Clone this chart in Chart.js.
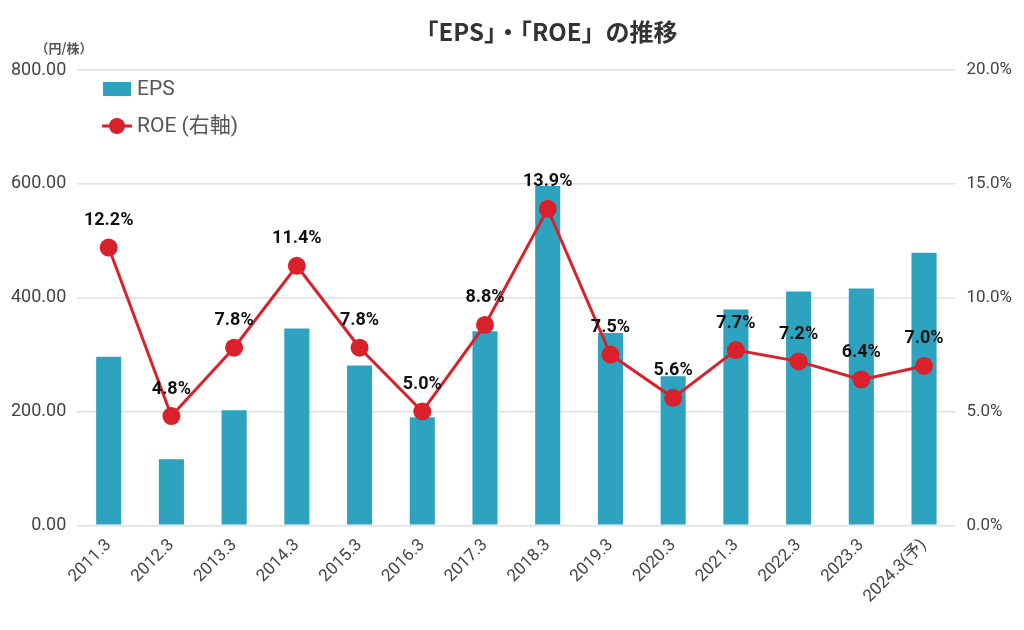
<!DOCTYPE html>
<html>
<head>
<meta charset="utf-8">
<script src="https://cdn.jsdelivr.net/npm/chart.js@4"></script>
<style>
  html, body { margin: 0; padding: 0; background: #fff; }
  #wrap { width: 1024px; height: 630px; }
</style>
</head>
<body>
<div id="wrap"><canvas id="epsChart" width="1024" height="630"></canvas></div>
<script>
// データ
const years = ["2011.3", "2012.3", "2013.3", "2014.3", "2015.3", "2016.3", "2017.3",
  "2018.3", "2019.3", "2020.3", "2021.3", "2022.3", "2023.3", "2024.3(予)"];
const eps = [296, 116, 202, 346, 281, 190, 341, 596, 338, 262, 379, 411, 416, 479];
const roe = [12.2, 4.8, 7.8, 11.4, 7.8, 5.0, 8.8, 13.9, 7.5, 5.6, 7.7, 7.2, 6.4, 7.0];

const BAR = "#2ea3c0";
const RED = "#d9212b";
const JP = "'Noto Sans CJK JP', 'Noto Sans', sans-serif";

// タイトル・単位・凡例・ラベルを描く
const extras = {
  id: "extras",
  afterDatasetsDraw(chart) {
    const c = chart.ctx;
    c.save();
    c.fillStyle = "#333";
    c.font = "bold 24px " + JP;
    c.textAlign = "center";
    c.textBaseline = "middle";
    c.fillText("「EPS」・「ROE」の推移", 546, 32);

    c.fillStyle = "#555";
    c.font = "bold 13px " + JP;
    c.fillText("（円/株）", 64, 48);

    // 凡例
    c.fillStyle = BAR;
    c.fillRect(103, 82, 28, 14);
    c.strokeStyle = RED;
    c.lineWidth = 3;
    c.beginPath(); c.moveTo(102, 126); c.lineTo(132, 126); c.stroke();
    c.fillStyle = RED;
    c.beginPath(); c.arc(117, 126, 8, 0, Math.PI * 2); c.fill();
    c.fillStyle = "#555";
    c.font = "21px Roboto, " + JP;
    c.textAlign = "left";
    c.fillText("EPS", 137, 90);
    c.fillText("ROE (右軸)", 137, 127);

    // ROEラベル
    const meta = chart.getDatasetMeta(1);
    c.fillStyle = "#111";
    c.font = "bold 18px Roboto, sans-serif";
    c.textAlign = "center";
    meta.data.forEach((pt, i) => {
      c.fillText(roe[i].toFixed(1) + "%", pt.x, pt.y - 27);
    });
    c.restore();
  }
};

new Chart(document.getElementById("epsChart"), {
  data: {
    labels: years,
    datasets: [
      {
        type: "bar",
        label: "EPS",
        data: eps,
        backgroundColor: BAR,
        barPercentage: 0.8,
        categoryPercentage: 0.5,
        yAxisID: "y",
        order: 2
      },
      {
        type: "line",
        label: "ROE (右軸)",
        data: roe,
        borderColor: RED,
        backgroundColor: RED,
        borderWidth: 3,
        pointRadius: 9,
        pointBackgroundColor: RED,
        pointBorderWidth: 0,
        tension: 0,
        yAxisID: "y1",
        order: 1
      }
    ]
  },
  options: {
    responsive: false,
    animation: false,
    layout: { padding: { top: 70, left: 0, right: 1, bottom: 21 } },
    plugins: {
      legend: { display: false },
      title: { display: false },
      tooltip: { enabled: false }
    },
    scales: {
      x: {
        grid: { display: false },
        border: { display: false },
        ticks: {
          color: "#444",
          font: { size: 17, family: "Roboto, " + JP },
          maxRotation: 45,
          minRotation: 45,
          autoSkip: false,
          padding: 2
        }
      },
      y: {
        position: "left",
        min: 0,
        max: 800,
        border: { display: false },
        grid: { color: "#e0e0e0", drawTicks: false, lineWidth: 1.5 },
        ticks: {
          stepSize: 200,
          color: "#444",
          padding: 11,
          font: { size: 18, family: "Roboto" },
          callback: v => v.toFixed(2)
        }
      },
      y1: {
        position: "right",
        min: 0,
        max: 20,
        border: { display: false },
        grid: { display: false, drawTicks: false },
        ticks: {
          stepSize: 5,
          color: "#444",
          padding: 11,
          font: { size: 17, family: "Roboto" },
          callback: v => v.toFixed(1) + "%"
        }
      }
    }
  },
  plugins: [extras]
});
</script>
</body>
</html>
